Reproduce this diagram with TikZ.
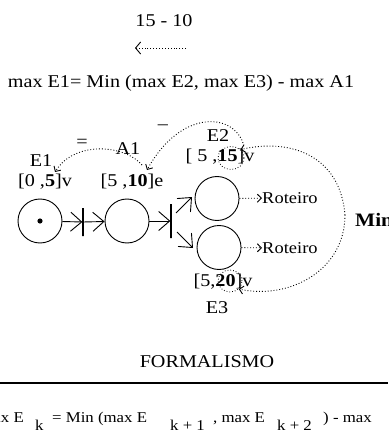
\documentclass[tikz,border=0pt]{standalone}
\usepackage{fontspec}
\setmainfont{Liberation Serif}[FakeStretch=1.12]
\usetikzlibrary{arrows.meta,shapes.geometric}
\newcommand{\fsz}[1]{\fontsize{#1}{#1}\selectfont}
\begin{document}
\begin{tikzpicture}[x=1pt,y=-1pt,
  txt/.style={inner sep=0pt, font=\fsz{18}},
  small/.style={inner sep=0pt, font=\fsz{16.5}},
  frm/.style={inner sep=0pt, font=\fsz{15}, anchor=base west},
  place/.style={circle, draw, line width=0.9pt, minimum size=44pt, inner sep=0pt},
  bar/.style={rectangle, draw, line width=1.3pt, minimum width=0pt, inner sep=0pt},
  arr/.style={line width=0.9pt, -{Straight Barb[length=11pt,width=19pt]}},
  darr/.style={dotted, line width=0.9pt, -{Straight Barb[length=4pt,width=8pt]}},
  ring/.style={ellipse, draw, dotted, line width=0.8pt, inner sep=0pt}
]
\useasboundingbox (0,0) rectangle (388,446);
\clip (0,0) rectangle (388,446);

% top
\node[txt] (diff) at (164,21) {15 - 10};
\coordinate (ts) at (186,48);
\coordinate (te) at (135,48);
\draw[dotted, line width=0.9pt, -{Straight Barb[length=5pt,width=12pt]}] (ts) -- (te);
\node[txt] (eq) at (181,83) {max E1= Min (max E2, max E3) - max A1};

% places and transitions
\node[place] (p1) at (40,221) {};
\fill (p1.center) circle (2.6);
\node[bar, minimum height=28pt] (t1) at (83,222) {};
\node[place] (p2) at (127,221) {};
\node[bar, minimum height=34pt] (t2) at (171,221) {};
\node[place] (p3) at (217,198.5) {};
\node[place] (p4) at (219,247.5) {};

\draw[arr] (p1) -- (t1);
\draw[arr] (t1) -- (p2);
\draw[arr] (p2) -- (t2);
\coordinate (u1) at (176,213);
\coordinate (u2) at (192,197);
\coordinate (l1) at (177,232);
\coordinate (l2) at (193,248);
\draw[arr] (u1) -- (u2);
\draw[arr] (l1) -- (l2);

% labels
\node[txt] (E1) at (41,161) {E1};
\node[txt] (lab5) at (45,182) {[0 ,\textbf{5}]v};
\node[txt] (eqs) at (82,143) {=};
\node[txt] (A1) at (128,149) {A1};
\node[txt] (lab10) at (132,182) {[5 ,\textbf{10}]e};
\node[txt] (minus) at (163,127) {\textendash};
\node[txt] (E2) at (218,136) {E2};
\node[txt] (lab15) at (220,157) {[ 5 ,\textbf{15}]v};
\node[ring, minimum width=26pt, minimum height=23pt] (r15) at (231,158) {};
\node[txt] (lab20) at (223,282) {[5,\textbf{20}]v};
\node[ring, minimum width=24pt, minimum height=22pt] (r20) at (230,281) {};
\node[txt] (E3) at (217,308) {E3};

% Roteiro
\node[small, anchor=west] (ro1) at (262,198) {Roteiro};
\node[small, anchor=west] (ro2) at (262,248) {Roteiro};
\draw[darr] (p3) -- (ro1);
\draw[darr] (p4) -- (ro2);
\node[inner sep=0pt, font=\fsz{19}\bfseries, anchor=west] (min) at (355,220) {Min};

% dotted dependency curves
\coordinate (a10) at (142,165);
\coordinate (aE1) at (55,172);
\draw[darr] (a10) .. controls (125,145) and (75,140) .. (aE1);
\coordinate (m1) at (243,143);
\coordinate (m10) at (147,170);
\draw[darr] (m1) .. controls (232,112) and (180,110) .. (m10);
\coordinate (loop) at (345,215);
\draw[darr] (loop) .. controls (340,155) and (290,138) .. (r15.north east);
\draw[darr] (loop) .. controls (345,270) and (290,300) .. (r20.south east);

% formalism
\node[txt] (form) at (207,362) {FORMALISMO};
\coordinate (hl) at (0,383);
\coordinate (hr) at (388,383);
\draw[line width=1.3pt] (hl) -- (hr);
\node[frm, anchor=base east] (f1) at (24,422) {max E};
\node[frm] (f3) at (35,430) {k};
\node[frm] (f4) at (52,422) {= Min (max E};
\node[frm] (f8) at (170,430) {k + 1};
\node[frm] (f9) at (213,422) {, max E};
\node[frm] (f12) at (277,430) {k + 2};
\node[frm] (f13) at (323,422) {) - max};
\end{tikzpicture}
\end{document}
